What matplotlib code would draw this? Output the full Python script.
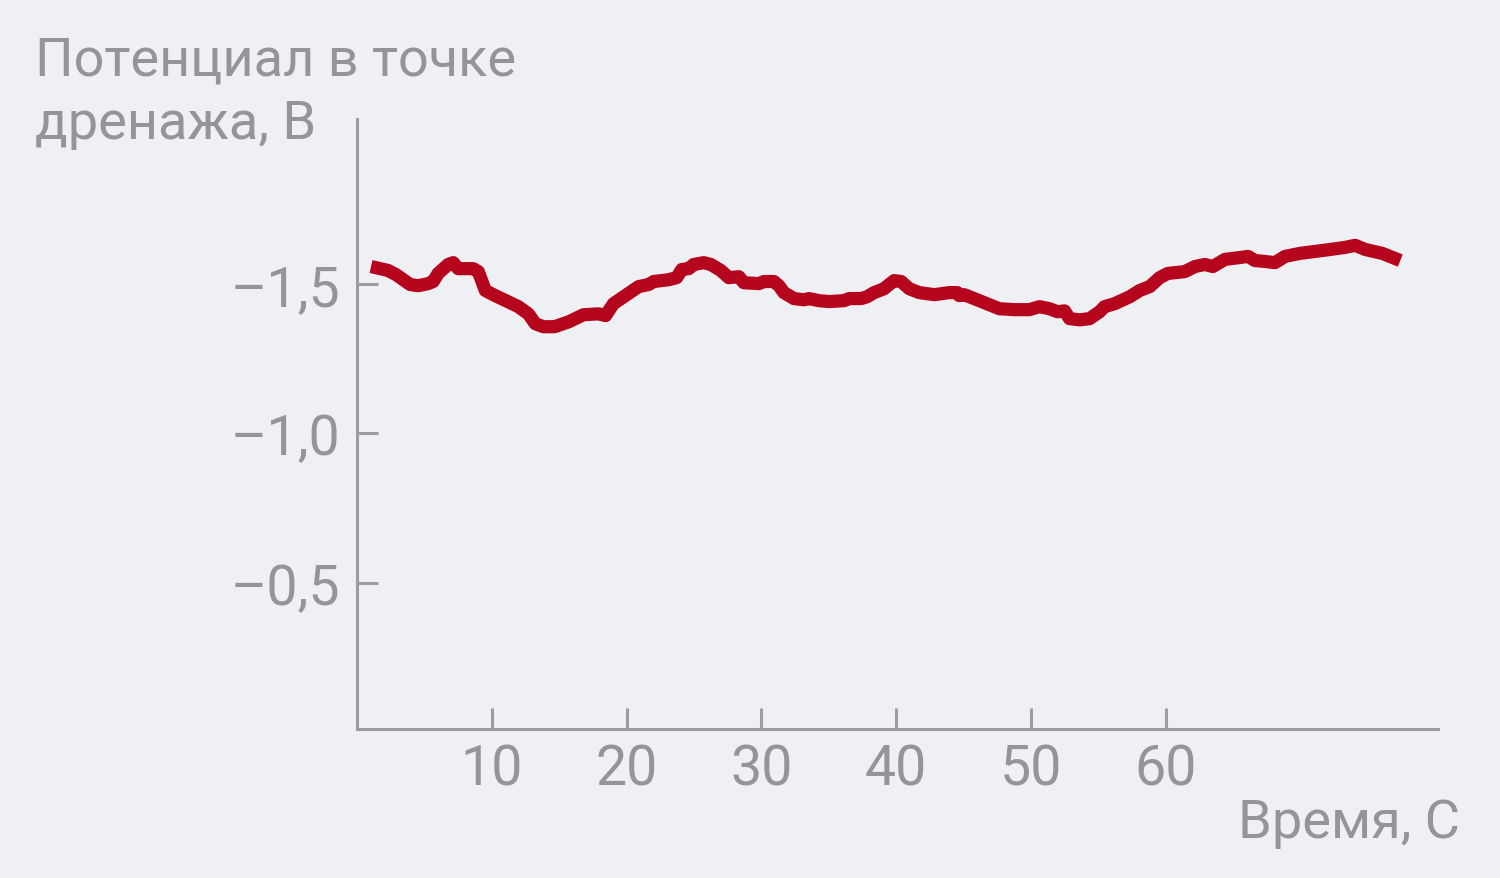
import matplotlib
matplotlib.use("Agg")
import matplotlib.pyplot as plt

# ---- data ----
time_s = [1.04, 2.30, 2.90, 3.94, 4.54, 5.28, 5.65, 6.02, 6.77, 7.14, 7.51, 8.62,
          9.00, 9.52, 10.11, 11.97, 12.71, 13.23, 13.83, 14.65, 15.69, 16.80, 17.92,
          18.44, 19.03, 19.78, 20.89, 21.64, 22.01, 23.12, 23.72, 24.09, 24.61, 24.98,
          25.72, 26.25, 26.99, 27.58, 28.33, 28.70, 29.81, 30.19, 30.93, 31.30, 31.67,
          32.42, 33.16, 33.53, 34.28, 35.02, 36.13, 36.51, 37.40, 37.84, 38.36, 39.11,
          39.48, 39.85, 40.37, 40.97, 41.71, 42.83, 43.94, 44.54, 44.68, 45.06, 46.17,
          47.66, 48.77, 49.89, 50.63, 51.38, 51.97, 52.49, 52.86, 53.61, 54.35, 55.09,
          55.46, 56.21, 57.32, 58.07, 58.81, 59.55, 60.15, 61.41, 62.16, 62.90, 63.49,
          64.39, 65.50, 66.10, 66.62, 67.36, 68.10, 68.85, 69.96, 72.19, 73.31, 74.05,
          74.80, 76.06, 77.40]
potential = [-1.557, -1.544, -1.530, -1.497, -1.493, -1.500, -1.507, -1.534, -1.564,
             -1.570, -1.550, -1.550, -1.540, -1.477, -1.463, -1.423, -1.399, -1.366,
             -1.356, -1.356, -1.372, -1.396, -1.399, -1.393, -1.433, -1.456, -1.490,
             -1.497, -1.507, -1.513, -1.520, -1.547, -1.550, -1.564, -1.570, -1.564,
             -1.544, -1.520, -1.523, -1.503, -1.500, -1.507, -1.507, -1.493, -1.470,
             -1.450, -1.446, -1.450, -1.443, -1.440, -1.443, -1.450, -1.450, -1.456,
             -1.470, -1.483, -1.497, -1.510, -1.507, -1.483, -1.470, -1.463, -1.470,
             -1.470, -1.460, -1.463, -1.443, -1.416, -1.413, -1.413, -1.423, -1.416,
             -1.406, -1.409, -1.383, -1.379, -1.383, -1.406, -1.423, -1.433, -1.456,
             -1.477, -1.490, -1.520, -1.534, -1.540, -1.557, -1.564, -1.557, -1.581,
             -1.587, -1.591, -1.577, -1.574, -1.570, -1.591, -1.601, -1.614, -1.621,
             -1.628, -1.614, -1.601, -1.577]
x_ticks = [10, 20, 30, 40, 50, 60]
x_tick_labels = ["10", "20", "30", "40", "50", "60"]
y_ticks = [-1.5, -1.0, -0.5]
y_tick_labels = ["\u20131,5", "\u20131,0", "\u20130,5"]
y_title_lines = ["Потенциал в точке", "дренажа, В"]
x_title = "Время, С"

# ---- style ----
plt.rcParams["font.family"] = ["Roboto", "DejaVu Sans"]

BG = "#eff0f4"
GREY = "#939598"
AXIS = "#9d9d9f"
RED = "#b5061e"

fig = plt.figure(figsize=(15, 8.79), dpi=100, facecolor=BG)
ax = fig.add_axes([0.238, 0.1695, 0.7207, 0.694])
ax.set_facecolor(BG)

ax.plot(time_s, potential, color=RED, lw=9.5, solid_capstyle="butt",
        solid_joinstyle="round")

ax.set_xlim(0, 80.2)
ax.set_ylim(-0.012, -2.05)

for s in ["top", "right"]:
    ax.spines[s].set_visible(False)
for s in ["left", "bottom"]:
    ax.spines[s].set_color(AXIS)
    ax.spines[s].set_linewidth(2.2)

ax.set_xticks(x_ticks)
ax.set_xticklabels(x_tick_labels)
ax.set_yticks(y_ticks)
ax.set_yticklabels(y_tick_labels)
ax.tick_params(axis="both", direction="in", length=15, width=2.2, color=AXIS,
               labelcolor=GREY, labelsize=40)
ax.tick_params(axis="y", pad=12)
ax.tick_params(axis="x", pad=10)

fig.text(0.0233, 1 - 76 / 879, y_title_lines[0], color=GREY, fontsize=39,
         ha="left", va="baseline")
fig.text(0.0233, 1 - 139 / 879, y_title_lines[1], color=GREY, fontsize=39,
         ha="left", va="baseline")
fig.text(1460 / 1500, 1 - 838 / 879, x_title, color=GREY, fontsize=39,
         ha="right", va="baseline")

fig.savefig("out.png", dpi=100, facecolor=BG)
